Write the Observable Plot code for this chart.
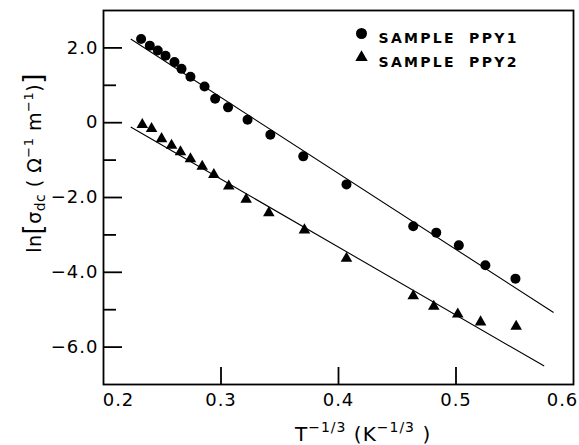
<!DOCTYPE html>
<html><head><meta charset="utf-8">
<script src="https://cdn.jsdelivr.net/npm/d3@7"></script>
<script src="https://cdn.jsdelivr.net/npm/@observablehq/plot@0.6"></script>
<style>
body{margin:0;background:#fff}
#chart{width:579px;height:445px}
</style>
</head><body><div id="chart"></div>
<script>
// Sample PPY1 (circles)
const ppy1X = [0.232, 0.2394, 0.2462, 0.2528, 0.2604, 0.2664, 0.274, 0.286, 0.295, 0.306, 0.3226, 0.342, 0.370, 0.4068, 0.4636, 0.4832, 0.5024, 0.525, 0.5506];
const ppy1Y = [2.24, 2.06, 1.93, 1.79, 1.62, 1.44, 1.23, 0.97, 0.64, 0.41, 0.08, -0.32, -0.90, -1.65, -2.77, -2.94, -3.28, -3.81, -4.17];
// Sample PPY2 (triangles)
const ppy2X = [0.233, 0.2409, 0.2494, 0.2579, 0.2655, 0.274, 0.284, 0.2939, 0.3066, 0.3214, 0.3407, 0.371, 0.4068, 0.4636, 0.4811, 0.5015, 0.5209, 0.5512];
const ppy2Y = [-0.05, -0.16, -0.43, -0.61, -0.78, -0.97, -1.17, -1.39, -1.70, -2.05, -2.41, -2.87, -3.63, -4.63, -4.91, -5.12, -5.33, -5.45];
// Fitted lines (end points)
const fit1X = [0.2235, 0.5827];
const fit1Y = [2.23, -5.07];
const fit2X = [0.2235, 0.5747];
const fit2Y = [-0.12, -6.5];
// Ticks
const yMajor = [-6, -4, -2, 0, 2];
const yMinor = [-5, -3, -1, 1];
const xMid = [0.3, 0.4, 0.5];
const legendLabels = ["SAMPLE PPY1", "SAMPLE PPY2"];

const pts1 = ppy1X.map((x, i) => ({x, y: ppy1Y[i]}));
const pts2 = ppy2X.map((x, i) => ({x, y: ppy2Y[i]}));
const line1 = fit1X.map((x, i) => ({x, y: fit1Y[i]}));
const line2 = fit2X.map((x, i) => ({x, y: fit2Y[i]}));

const fmtY = d => d === 0 ? "0" : d3.format(".1f")(d);
const fmtX = d => d3.format(".1f")(d);

const svg = Plot.plot({
  width: 579, height: 445,
  marginLeft: 103, marginRight: 6, marginTop: 10, marginBottom: 61,
  x: {domain: [0.2, 0.6]},
  y: {domain: [-7, 3]},
  style: {fontFamily: "DejaVu Sans", fontSize: "18px", color: "#000", background: "#fff"},
  marks: [
    Plot.frame({stroke: "#000", strokeWidth: 1.8}),
    Plot.axisY(yMajor, {tickSize: 0, tickPadding: 5, tickFormat: fmtY, fontSize: 18, label: null}),
    Plot.axisY(yMajor, {tickSize: -19, text: null, strokeWidth: 1.8, label: null}),
    Plot.axisY(yMinor, {tickSize: -13, text: null, strokeWidth: 1.8, label: null}),
    Plot.axisX(xMid, {tickSize: -17, text: null, strokeWidth: 1.8, label: null}),
    Plot.axisX([0.3, 0.4, 0.5], {tickSize: 0, tickPadding: 9, tickFormat: fmtX, fontSize: 18, label: null}),
    Plot.axisX([0.2], {tickSize: 0, tickPadding: 9, tickFormat: fmtX, fontSize: 18, dx: 15, label: null}),
    Plot.axisX([0.6], {tickSize: 0, tickPadding: 9, tickFormat: fmtX, fontSize: 18, dx: -11, label: null}),
    Plot.line(line1, {x: "x", y: "y", stroke: "#000", strokeWidth: 1.1}),
    Plot.line(line2, {x: "x", y: "y", stroke: "#000", strokeWidth: 1.1}),
    Plot.dot(pts1, {x: "x", y: "y", r: 5, fill: "#000", symbol: "circle"}),
    Plot.dot(pts2, {x: "x", y: "y", r: 4.3, fill: "#000", symbol: "triangle"}),
    Plot.dot([legendLabels[0]], {frameAnchor: "top-left", dx: 258, dy: 23, r: 5.5, fill: "#000", symbol: "circle"}),
    Plot.dot([legendLabels[1]], {frameAnchor: "top-left", dx: 258, dy: 47, r: 4.6, fill: "#000", symbol: "triangle"}),
    Plot.text([legendLabels[0]], {text: d => d, frameAnchor: "top-left", dx: 275, dy: 23, textAnchor: "start", fontWeight: "bold", fontSize: 14}),
    Plot.text([legendLabels[1]], {text: d => d, frameAnchor: "top-left", dx: 275, dy: 47, textAnchor: "start", fontWeight: "bold", fontSize: 14})
  ]
});

const s = d3.select(svg);
s.selectAll("text").each(function() {
  if (legendLabels.includes(this.textContent)) {
    this.setAttribute("letter-spacing", "2.3px");
    this.setAttribute("word-spacing", "6px");
  } else {
    this.setAttribute("letter-spacing", "1px");
  }
});

// Y axis label
const yl = s.append("text")
  .attr("transform", "translate(41,163) rotate(-90)")
  .attr("text-anchor", "middle")
  .attr("font-family", "DejaVu Sans")
  .attr("font-size", 19)
  .attr("fill", "#000")
  .attr("letter-spacing", "0.5px");
yl.append("tspan").text("ln");
yl.append("tspan").attr("font-size", 26).attr("dy", 1).text("[");
yl.append("tspan").attr("dy", -1).text("σ");
yl.append("tspan").attr("font-size", 14).attr("dy", 4).text("dc");
yl.append("tspan").attr("dy", -4).text(" ( Ω");
yl.append("tspan").attr("font-size", 13).attr("dy", -8).text("−1");
yl.append("tspan").attr("dy", 8).text(" m");
yl.append("tspan").attr("font-size", 13).attr("dy", -8).text("−1");
yl.append("tspan").attr("dy", 8).text(")");
yl.append("tspan").attr("font-size", 26).attr("dy", 1).text("]");

// X axis label
const xl = s.append("text")
  .attr("x", 295).attr("y", 441)
  .attr("text-anchor", "start")
  .attr("font-family", "DejaVu Sans")
  .attr("font-size", 20)
  .attr("fill", "#000")
  .attr("letter-spacing", "1px");
xl.append("tspan").text("T");
xl.append("tspan").attr("font-size", 14).attr("dy", -9).text("−1/3");
xl.append("tspan").attr("dy", 9).text(" (K");
xl.append("tspan").attr("font-size", 14).attr("dy", -9).text("−1/3");
xl.append("tspan").attr("dy", 9).text(" )");

document.getElementById("chart").appendChild(svg);
</script>
</body></html>
